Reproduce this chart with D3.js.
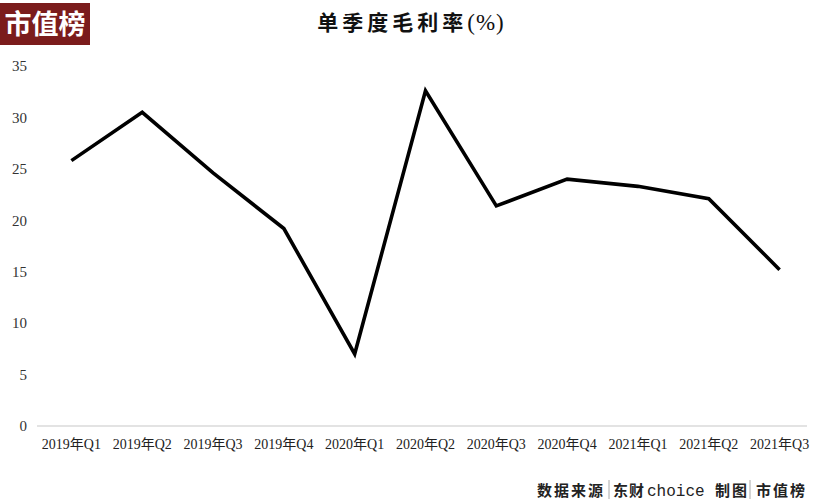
<!DOCTYPE html>
<html><head><meta charset="utf-8">
<script src="https://cdn.jsdelivr.net/npm/d3@7"></script>
<style>body{margin:0;background:#fff}svg{display:block}</style>
</head><body>
<svg id="c" width="820" height="500"></svg>
<script>
const categories = ["2019年Q1","2019年Q2","2019年Q3","2019年Q4","2020年Q1","2020年Q2","2020年Q3","2020年Q4","2021年Q1","2021年Q2","2021年Q3"];
const grossMargin = [25.8, 30.5, 24.6, 19.2, 7.0, 32.6, 21.4, 24.0, 23.3, 22.1, 15.2];
const yTicks = [0, 5, 10, 15, 20, 25, 30, 35];
const titleMain = "单季度毛利率";
const titleUnit = "(%)";

const svg = d3.select("#c");
const x = d3.scaleBand().domain(categories).range([36, 815]);
const y = d3.scaleLinear().domain([0, 35]).range([426, 66]);
const serif = "'Liberation Serif','Noto Sans CJK SC',serif";

// logo
svg.append("rect").attr("x",0).attr("y",3).attr("width",90).attr("height",42).attr("fill","#7b1c1c");
svg.append("text").attr("x",45).attr("y",34).attr("text-anchor","middle")
  .attr("font-family","'Noto Sans CJK SC'").attr("font-weight","bold").attr("font-size",27)
  .attr("fill","#fff").text("市值榜");

// title
const tt = svg.append("text").attr("x",411).attr("y",30).attr("text-anchor","middle")
  .attr("font-family","'Noto Sans CJK SC'").attr("font-size",21).attr("fill","#111");
tt.append("tspan").attr("font-weight","bold").attr("letter-spacing",4).text(titleMain);
tt.append("tspan").attr("font-family",serif).attr("font-size",23).attr("letter-spacing",1).text(titleUnit);

// y axis labels
const ya = svg.append("g").attr("transform","translate(27,0)")
  .call(d3.axisLeft(y).tickValues(yTicks).tickSize(0).tickPadding(0));
ya.select(".domain").remove();
ya.selectAll("text").attr("font-family",serif).attr("font-size",15).attr("fill","#333");

// x axis line
svg.append("line").attr("x1",37).attr("x2",807).attr("y1",y(0)).attr("y2",y(0))
  .attr("stroke","#c8c8c8").attr("stroke-width",1.2);
const xa = svg.append("g").attr("transform",`translate(0,${y(0)})`)
  .call(d3.axisBottom(x).tickSize(0).tickPadding(13));
xa.select(".domain").remove();
xa.selectAll("text").attr("font-family",serif).attr("font-size",14).attr("fill","#222");

// line
const line = d3.line().x((d,i)=>x(categories[i])+x.bandwidth()/2).y(d=>y(d));
svg.append("path").datum(grossMargin).attr("d",line).attr("fill","none")
  .attr("stroke","#000").attr("stroke-width",3.6).attr("stroke-linejoin","miter");

// footer
const ft = svg.append("g").attr("font-family","'Noto Sans CJK SC'").attr("font-weight","bold").attr("font-size",15).attr("fill","#222");
ft.append("text").attr("x",537).attr("y",496).attr("letter-spacing",2).text("数据来源");
ft.append("line").attr("x1",609).attr("x2",609).attr("y1",480).attr("y2",499).attr("stroke","#aaa");
ft.append("text").attr("x",613).attr("y",496).attr("letter-spacing",1).text("东财");
ft.append("text").attr("x",647).attr("y",496).attr("font-family","'Liberation Mono','DejaVu Sans Mono',monospace").attr("font-weight","normal").attr("font-size",16).text("choice");
ft.append("text").attr("x",715).attr("y",496).attr("letter-spacing",2).text("制图");
ft.append("line").attr("x1",750).attr("x2",750).attr("y1",480).attr("y2",499).attr("stroke","#aaa");
ft.append("text").attr("x",756).attr("y",496).attr("letter-spacing",2).text("市值榜");
</script>
</body></html>
